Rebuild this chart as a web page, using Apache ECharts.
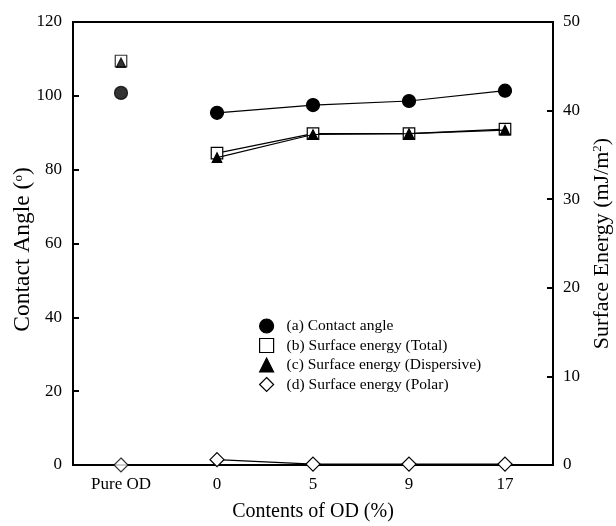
<!doctype html>
<html lang="en">
  <head>
    <meta charset="UTF-8" />
    <title>Contact angle / surface energy</title>
    <script src="https://cdn.jsdelivr.net/npm/echarts/dist/echarts.min.js"></script>
    <style>
      body { margin: 0; padding: 0; background: #fff; }
      .main { width: 616px; height: 526px; }
    </style>
  </head>
  <body>
    <div class="main"></div>
  </body>
  <script>
    // x categories
    const categories = ["Pure OD", "0", "5", "9", "17"];
    // values, index 0 is Pure OD (drawn alone, not joined to the line)
    const contactAngle = [100.8, 95.4, 97.5, 98.6, 101.4]; // left axis (deg)
    const energyTotal = [45.6, 35.2, 37.4, 37.4, 37.9]; // right axis mJ/m2
    const energyDisp = [45.4, 34.7, 37.3, 37.4, 37.8];
    const energyPolar = [0, 0.6, 0.1, 0.1, 0.1];

    const names = [
      "(a) Contact angle",
      "(b) Surface energy (Total)",
      "(c) Surface energy (Dispersive)",
      "(d) Surface energy (Polar)",
    ];

    const font = "Liberation Serif";

    // split into the lone Pure OD point and the joined 0..17 points
    const lone = (arr) => arr.map((v, i) => (i === 0 ? v : "-"));
    const joined = (arr) => arr.map((v, i) => (i === 0 ? "-" : v));

    const styles = [
      { symbol: "circle", size: 13, fill: "#000", axis: 0, z: 10 },
      { symbol: "rect", size: 11.5, fill: "#fff", axis: 1, z: 4 },
      { symbol: "triangle", size: 9.5, fill: "#000", axis: 1, z: 6 },
      { symbol: "diamond", size: 14, fill: "#fff", axis: 1, z: 3 },
    ];
    const allData = [contactAngle, energyTotal, energyDisp, energyPolar];

    let series = [];
    allData.forEach((arr, k) => {
      const s = styles[k];
      const common = {
        name: names[k],
        yAxisIndex: s.axis,
        symbol: s.symbol,
        symbolSize: s.size,
        itemStyle: { color: s.fill, borderColor: "#000", borderWidth: 1.2 },
        z: s.z,
      };
      series.push(
        Object.assign({}, common, {
          type: "line",
          data: joined(arr),
          showAllSymbol: true,
          lineStyle: { color: "#000", width: 1.2 },
        }),
      );
      series.push(
        Object.assign({}, common, {
          type: "scatter",
          data: lone(arr),
        }),
      );
    });

    const supStyle = { fontFamily: font, fontSize: 13, verticalAlign: "bottom", padding: [0, 0, 10, 0] };

    const myChart = echarts.init(document.querySelector(".main"));

    const option = {
      animation: false,
      textStyle: { fontFamily: font, color: "#000" },
      grid: {
        left: 73,
        right: 63,
        top: 22,
        bottom: 61,
        outerBoundsMode: "none",
        show: true,
        borderColor: "#000",
        borderWidth: 2,
        backgroundColor: "transparent",
      },
      legend: {
        orient: "vertical",
        left: 254,
        top: 313,
        itemGap: 3.5,
        itemWidth: 14,
        itemHeight: 14,
        textStyle: { fontFamily: font, fontSize: 15.5, color: "#000", padding: [0, 0, 0, 8] },
        data: names.map((n, k) => ({
          name: n,
          icon: styles[k].symbol,
          itemStyle: { color: styles[k].fill, borderColor: "#000", borderWidth: 1.2 },
        })),
      },
      xAxis: {
        type: "category",
        data: categories,
        boundaryGap: true,
        name: "Contents of OD (%)",
        nameLocation: "middle",
        nameGap: 37,
        nameTextStyle: { fontFamily: font, fontSize: 20, color: "#000" },
        axisLine: { lineStyle: { color: "#000", width: 2 } },
        axisTick: { inside: true, alignWithLabel: true, length: 6, lineStyle: { width: 2 } },
        axisLabel: { fontFamily: font, fontSize: 17, color: "#000", margin: 11 },
        splitLine: { show: false },
      },
      yAxis: [
        {
          type: "value",
          min: 0,
          max: 120,
          interval: 20,
          name: "Contact Angle ({sup|o})",
          nameLocation: "middle",
          nameRotate: 90,
          nameGap: 38,
          nameMoveOverlap: false,
          nameTextStyle: {
            fontFamily: font,
            fontSize: 23.5,
            color: "#000",
            padding: [0, 12, 0, 0],
            rich: { sup: supStyle },
          },
          axisLine: { show: true, lineStyle: { color: "#000", width: 2 } },
          axisTick: { show: true, inside: true, length: 6, lineStyle: { width: 2 } },
          axisLabel: { fontFamily: font, fontSize: 17, color: "#000", margin: 11 },
          splitLine: { show: false },
        },
        {
          type: "value",
          min: 0,
          max: 50,
          interval: 10,
          position: "right",
          name: "Surface Energy (mJ/m{sup|2})",
          nameLocation: "middle",
          nameRotate: 90,
          nameGap: 38,
          nameMoveOverlap: false,
          nameTextStyle: {
            fontFamily: font,
            fontSize: 22,
            color: "#000",
            rich: { sup: supStyle },
          },
          axisLine: { show: true, lineStyle: { color: "#000", width: 2 } },
          axisTick: { show: true, inside: true, length: 6, lineStyle: { width: 2 } },
          axisLabel: { fontFamily: font, fontSize: 17, color: "#000", margin: 10 },
          splitLine: { show: false },
        },
      ],
      series: series,
    };

    myChart.setOption(option);
  </script>
</html>
